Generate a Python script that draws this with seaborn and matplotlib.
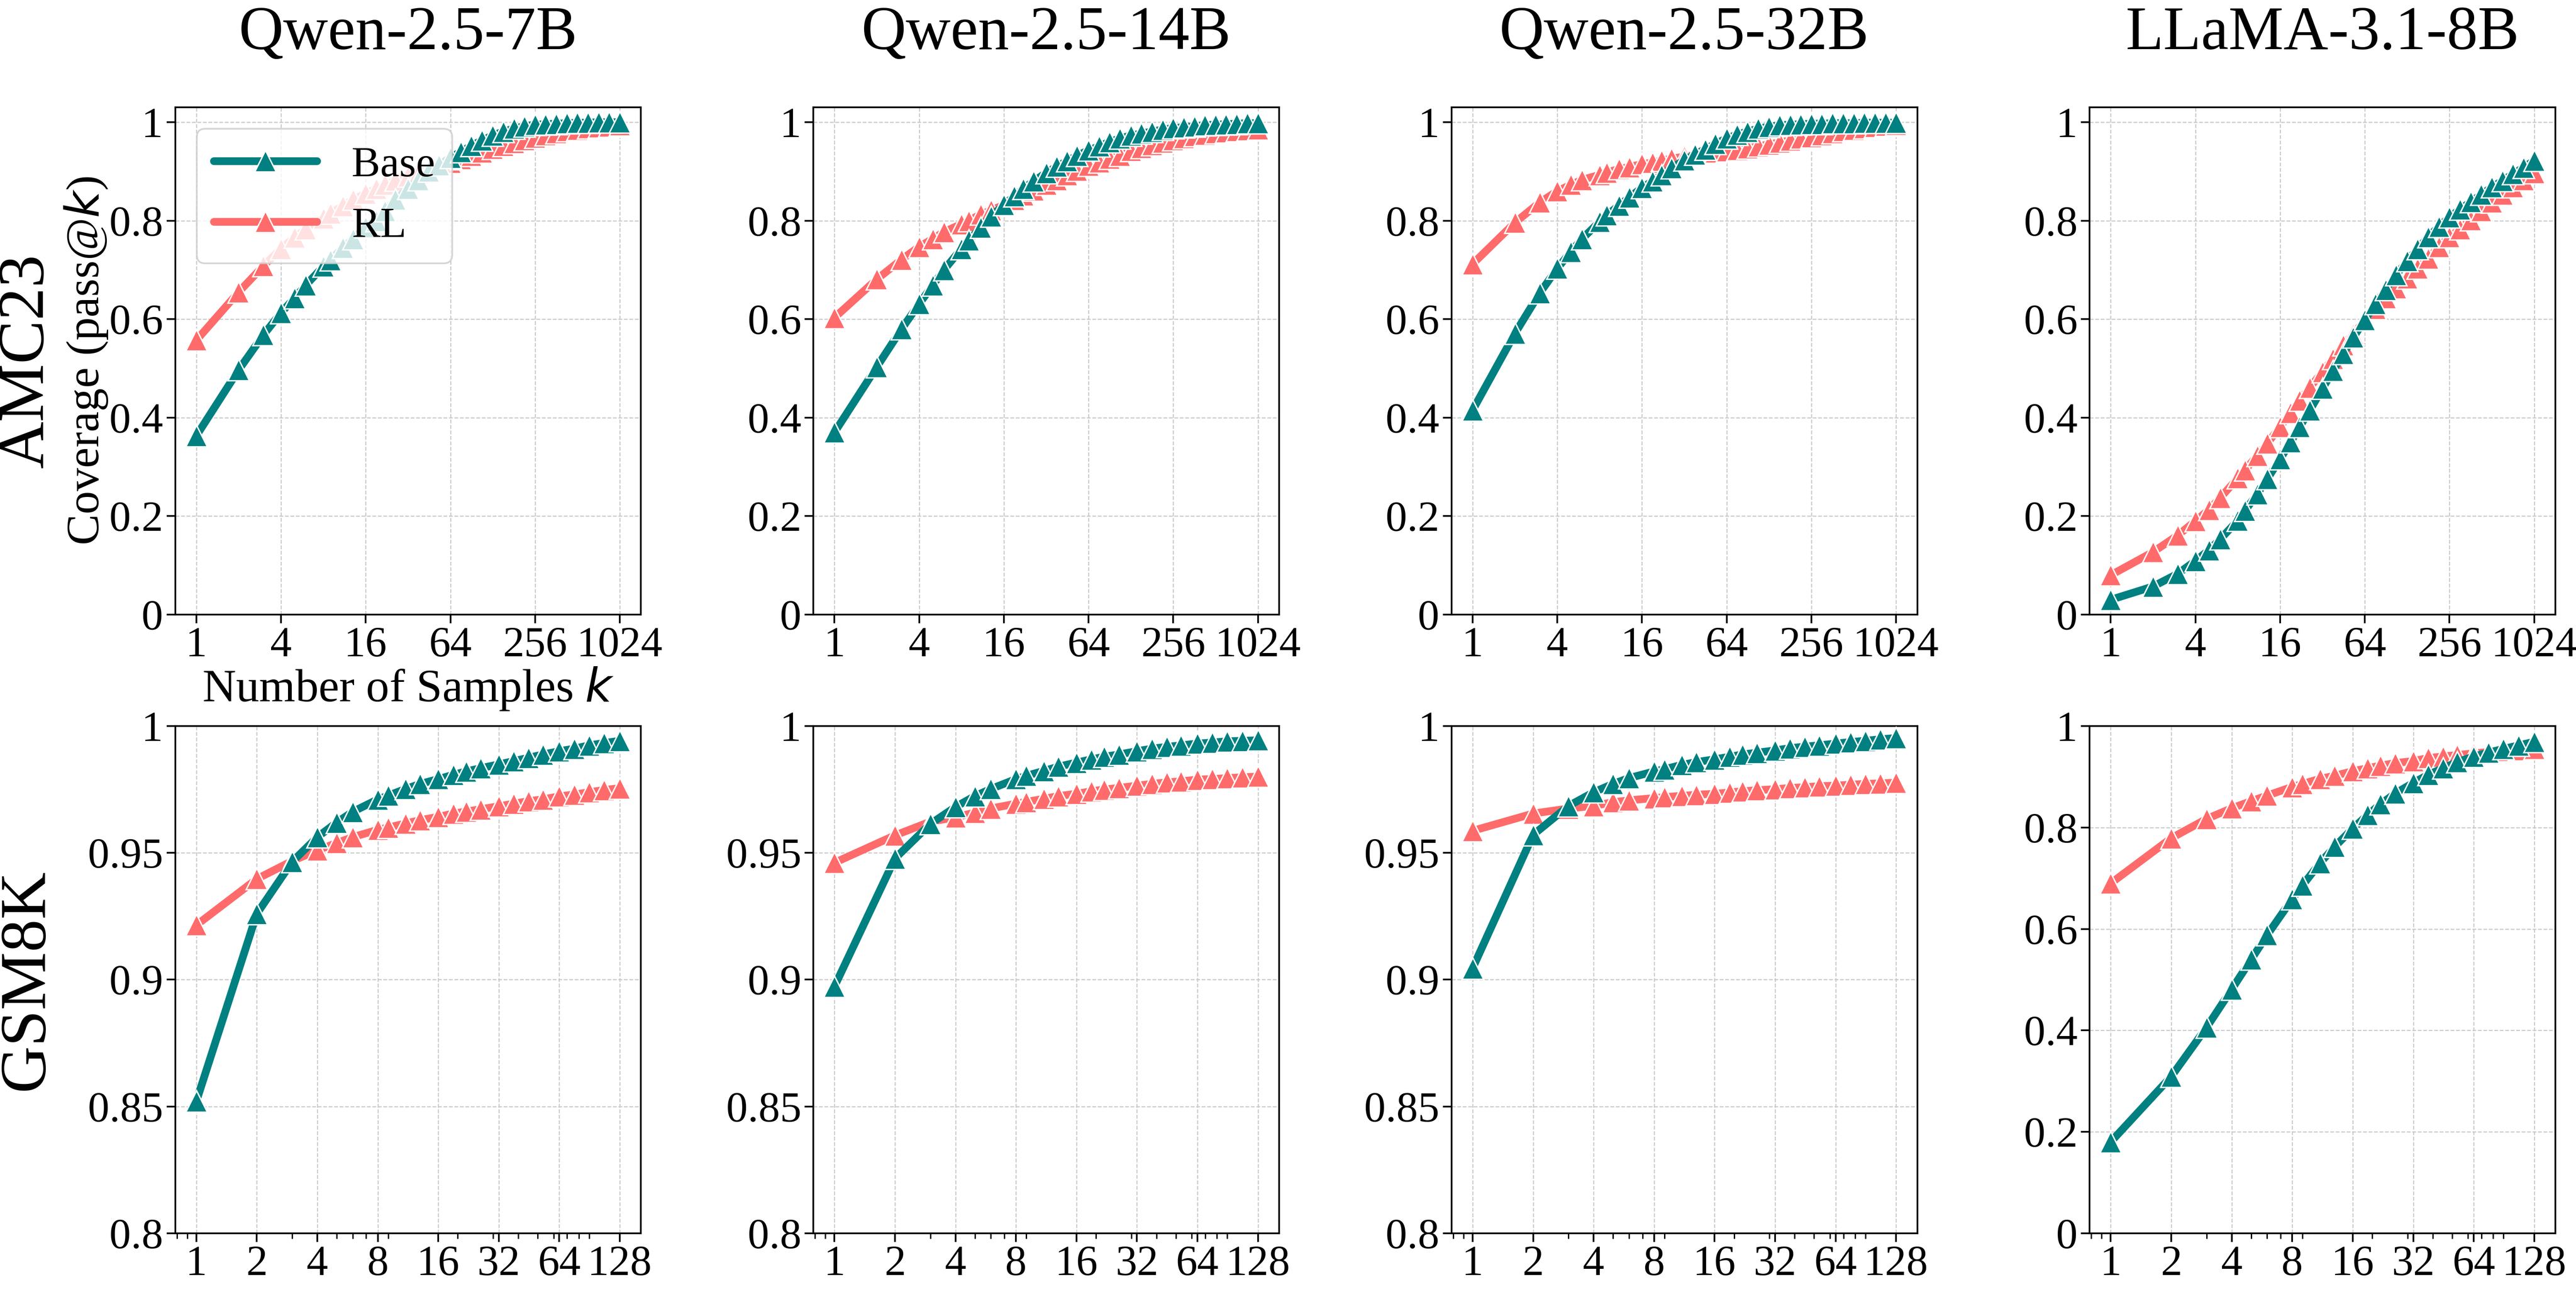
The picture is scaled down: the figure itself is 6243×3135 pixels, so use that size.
import matplotlib
matplotlib.use('Agg')
import matplotlib.pyplot as plt
import matplotlib.ticker as mticker
import pandas as pd
import seaborn as sns

# sample budgets k (log-spaced, floor of 2^(i/4))
k_amc = [1, 2, 3, 4, 5, 6, 8, 9, 11, 13, 16, 19, 22, 26, 32, 38, 45, 53, 64, 76, 90, 107,
         128, 152, 181, 215, 256, 304, 362, 430, 512, 608, 724, 861, 1024]
k_gsm = [1, 2, 3, 4, 5, 6, 8, 9, 11, 13, 16, 19, 22, 26, 32, 38, 45, 53, 64, 76, 90, 107, 128]

models = ['Qwen-2.5-7B', 'Qwen-2.5-14B', 'Qwen-2.5-32B', 'LLaMA-3.1-8B']
datasets = ['AMC23', 'GSM8K']

# AMC23 coverage
amc_base_7b = [0.363, 0.497, 0.568, 0.613, 0.643, 0.669, 0.707, 0.720, 0.745, 0.763, 0.787, 0.800,
               0.820, 0.843, 0.865, 0.883, 0.900, 0.913, 0.928, 0.940, 0.952, 0.963, 0.973, 0.981,
               0.987, 0.992, 0.995, 0.996, 0.997, 0.998, 0.999, 0.999, 1.000, 1.000, 1.000]
amc_rl_7b = [0.557, 0.655, 0.708, 0.743, 0.766, 0.783, 0.805, 0.815, 0.830, 0.843, 0.855, 0.865,
             0.873, 0.882, 0.890, 0.897, 0.905, 0.912, 0.918, 0.925, 0.932, 0.939, 0.946, 0.952,
             0.958, 0.964, 0.969, 0.974, 0.978, 0.982, 0.985, 0.988, 0.990, 0.992, 0.994]
amc_base_14b = [0.370, 0.503, 0.580, 0.631, 0.669, 0.700, 0.743, 0.760, 0.786, 0.809, 0.832, 0.850,
                0.865, 0.880, 0.897, 0.910, 0.921, 0.932, 0.943, 0.951, 0.960, 0.967, 0.973, 0.977,
                0.981, 0.985, 0.988, 0.990, 0.992, 0.994, 0.995, 0.996, 0.997, 0.998, 0.998]
amc_rl_14b = [0.603, 0.681, 0.721, 0.747, 0.763, 0.777, 0.793, 0.800, 0.813, 0.821, 0.832, 0.842,
              0.852, 0.862, 0.873, 0.883, 0.893, 0.902, 0.912, 0.919, 0.926, 0.932, 0.942, 0.948,
              0.954, 0.959, 0.964, 0.968, 0.972, 0.975, 0.978, 0.980, 0.982, 0.984, 0.986]
amc_base_32b = [0.415, 0.571, 0.653, 0.703, 0.737, 0.763, 0.798, 0.811, 0.831, 0.847, 0.867, 0.880,
                0.893, 0.907, 0.923, 0.935, 0.945, 0.956, 0.967, 0.975, 0.981, 0.987, 0.991, 0.994,
                0.995, 0.996, 0.997, 0.997, 0.998, 0.998, 0.998, 0.999, 0.999, 0.999, 0.999]
amc_rl_32b = [0.712, 0.796, 0.837, 0.860, 0.873, 0.883, 0.893, 0.898, 0.905, 0.909, 0.915, 0.918,
              0.922, 0.926, 0.930, 0.933, 0.936, 0.939, 0.941, 0.944, 0.947, 0.951, 0.955, 0.959,
              0.963, 0.967, 0.970, 0.974, 0.978, 0.982, 0.985, 0.988, 0.991, 0.993, 0.995]
amc_base_llama = [0.030, 0.057, 0.083, 0.109, 0.131, 0.153, 0.191, 0.211, 0.245, 0.276, 0.316, 0.350,
                  0.381, 0.415, 0.459, 0.495, 0.530, 0.563, 0.598, 0.631, 0.660, 0.690, 0.718, 0.743,
                  0.767, 0.788, 0.807, 0.823, 0.838, 0.853, 0.868, 0.881, 0.895, 0.908, 0.922]
amc_rl_llama = [0.080, 0.127, 0.161, 0.190, 0.213, 0.237, 0.277, 0.293, 0.323, 0.348, 0.381, 0.410,
                0.435, 0.461, 0.493, 0.520, 0.547, 0.570, 0.597, 0.621, 0.643, 0.663, 0.683, 0.703,
                0.723, 0.747, 0.767, 0.783, 0.801, 0.820, 0.837, 0.853, 0.868, 0.883, 0.897]

# GSM8K coverage
gsm_base_7b = [0.8520, 0.9260, 0.9465, 0.9562, 0.9620, 0.9662, 0.9711, 0.9726, 0.9752, 0.9772, 0.9791,
               0.9808, 0.9821, 0.9834, 0.9849, 0.9862, 0.9875, 0.9888, 0.9901, 0.9911, 0.9924, 0.9933, 0.9942]
gsm_rl_7b = [0.9215, 0.9397, 0.9468, 0.9510, 0.9539, 0.9562, 0.9591, 0.9600, 0.9616, 0.9629, 0.9642,
             0.9655, 0.9663, 0.9672, 0.9684, 0.9694, 0.9704, 0.9711, 0.9723, 0.9730, 0.9739, 0.9748, 0.9755]
gsm_base_14b = [0.8973, 0.9478, 0.9614, 0.9681, 0.9724, 0.9752, 0.9791, 0.9804, 0.9823, 0.9840, 0.9856,
                0.9869, 0.9879, 0.9888, 0.9901, 0.9911, 0.9918, 0.9924, 0.9931, 0.9935, 0.9940, 0.9942, 0.9944]
gsm_rl_14b = [0.9461, 0.9569, 0.9623, 0.9640, 0.9659, 0.9675, 0.9694, 0.9701, 0.9713, 0.9724, 0.9733,
              0.9743, 0.9750, 0.9756, 0.9765, 0.9772, 0.9778, 0.9782, 0.9789, 0.9791, 0.9795, 0.9798, 0.9801]
gsm_base_32b = [0.9045, 0.9571, 0.9685, 0.9739, 0.9772, 0.9795, 0.9821, 0.9830, 0.9847, 0.9858, 0.9869,
                0.9879, 0.9888, 0.9895, 0.9904, 0.9913, 0.9919, 0.9924, 0.9931, 0.9937, 0.9942, 0.9948, 0.9953]
gsm_rl_32b = [0.9587, 0.9655, 0.9675, 0.9685, 0.9700, 0.9707, 0.9716, 0.9720, 0.9725, 0.9729, 0.9733,
              0.9738, 0.9743, 0.9747, 0.9751, 0.9756, 0.9759, 0.9763, 0.9765, 0.9769, 0.9772, 0.9774, 0.9777]
gsm_base_llama = [0.180, 0.309, 0.406, 0.481, 0.540, 0.588, 0.659, 0.686, 0.730, 0.762, 0.798,
                  0.825, 0.846, 0.867, 0.888, 0.904, 0.917, 0.929, 0.940, 0.948, 0.955, 0.962, 0.969]
gsm_rl_llama = [0.690, 0.779, 0.817, 0.838, 0.852, 0.863, 0.880, 0.886, 0.896, 0.902, 0.911,
                0.917, 0.922, 0.927, 0.931, 0.937, 0.940, 0.943, 0.946, 0.949, 0.951, 0.953, 0.955]

amc_xticks = [1, 4, 16, 64, 256, 1024]
gsm_xticks = [1, 2, 4, 8, 16, 32, 64, 128]
gsm_yticks_qwen = [0.8, 0.85, 0.9, 0.95, 1.0]
yticks_full = [0, 0.2, 0.4, 0.6, 0.8, 1.0]

# build one long table
rows = []
series = {
    ('AMC23', 'Qwen-2.5-7B'): (amc_base_7b, amc_rl_7b),
    ('AMC23', 'Qwen-2.5-14B'): (amc_base_14b, amc_rl_14b),
    ('AMC23', 'Qwen-2.5-32B'): (amc_base_32b, amc_rl_32b),
    ('AMC23', 'LLaMA-3.1-8B'): (amc_base_llama, amc_rl_llama),
    ('GSM8K', 'Qwen-2.5-7B'): (gsm_base_7b, gsm_rl_7b),
    ('GSM8K', 'Qwen-2.5-14B'): (gsm_base_14b, gsm_rl_14b),
    ('GSM8K', 'Qwen-2.5-32B'): (gsm_base_32b, gsm_rl_32b),
    ('GSM8K', 'LLaMA-3.1-8B'): (gsm_base_llama, gsm_rl_llama),
}
for (ds, model), (base, rl) in series.items():
    ks = k_amc if ds == 'AMC23' else k_gsm
    for kk, b, r in zip(ks, base, rl):
        rows.append((ds, model, kk, 'Base', b))
        rows.append((ds, model, kk, 'RL', r))
df = pd.DataFrame(rows, columns=['dataset', 'model', 'k', 'method', 'coverage'])

sns.set_theme(style='white')
plt.rcParams['font.family'] = ['Liberation Serif', 'DejaVu Serif']
plt.rcParams['mathtext.fontset'] = 'dejavusans'
for key in ['text.color', 'axes.labelcolor', 'xtick.color', 'ytick.color', 'axes.edgecolor']:
    plt.rcParams[key] = 'black'

colors = {'Base': '#008080', 'RL': '#FF6B6B'}

fig, axes = plt.subplots(2, 4, figsize=(6243 / 300, 3135 / 300), dpi=300)
fig.subplots_adjust(left=0.068, right=0.992, bottom=0.047, top=0.917, wspace=0.37, hspace=0.22)

for r, ds in enumerate(datasets):
    for c, model in enumerate(models):
        ax = axes[r, c]
        sub = df[(df.dataset == ds) & (df.model == model)]
        # RL first so Base sits on top
        for method, z in [('RL', 2), ('Base', 3)]:
            d = sub[sub.method == method]
            sns.lineplot(data=d, x='k', y='coverage', ax=ax, color=colors[method], label=method,
                         marker='^', markersize=12.5, linewidth=4.5, markeredgecolor='white',
                         markeredgewidth=0.8, zorder=z)
        ax.set_xscale('log')
        if ds == 'AMC23':
            ax.set_xticks(amc_xticks)
            ax.set_xticklabels([str(t) for t in amc_xticks])
            ax.set_ylim(0, 1.03)
            ax.set_yticks(yticks_full)
        else:
            ax.set_xticks(gsm_xticks)
            ax.set_xticklabels([str(t) for t in gsm_xticks])
            if model.startswith('LLaMA'):
                ax.set_ylim(0, 1.0)
                ax.set_yticks(yticks_full)
            else:
                ax.set_ylim(0.8, 1.0)
                ax.set_yticks(gsm_yticks_qwen)
        ax.xaxis.set_minor_formatter(mticker.NullFormatter())
        ax.yaxis.set_major_formatter(mticker.FuncFormatter(lambda v, _: f'{v:g}'))
        ax.tick_params(axis='both', which='major', labelsize=25, length=5, width=1,
                       direction='out', bottom=True, left=True, pad=2)
        ax.tick_params(axis='x', which='minor', length=3, width=0.8, bottom=True)
        ax.grid(True, which='major', linestyle='--', linewidth=0.6, color='#c8c8c8')
        for sp in ax.spines.values():
            sp.set_color('black')
            sp.set_linewidth(1.0)
        ax.set_xlabel('')
        ax.set_ylabel('')
        if r == 0:
            ax.set_title(model, fontsize=36, pad=34)
        if r == 0 and c == 0:
            handles, labels = ax.get_legend_handles_labels()
            order = [labels.index('Base'), labels.index('RL')]
            ax.legend([handles[i] for i in order], [labels[i] for i in order],
                      loc='upper left', fontsize=25, handlelength=2.4, framealpha=0.8)
            ax.set_xlabel('Number of Samples $k$', fontsize=27, labelpad=0)
            ax.set_ylabel('Coverage (pass@$k$)', fontsize=27, labelpad=0)
        else:
            leg = ax.get_legend()
            if leg is not None:
                leg.remove()

for r, ds in enumerate(datasets):
    pos = axes[r, 0].get_position()
    fig.text(0.0105, (pos.y0 + pos.y1) / 2, ds, rotation=90, fontsize=38,
             ha='center', va='center')

fig.savefig('out.png', dpi=300)
